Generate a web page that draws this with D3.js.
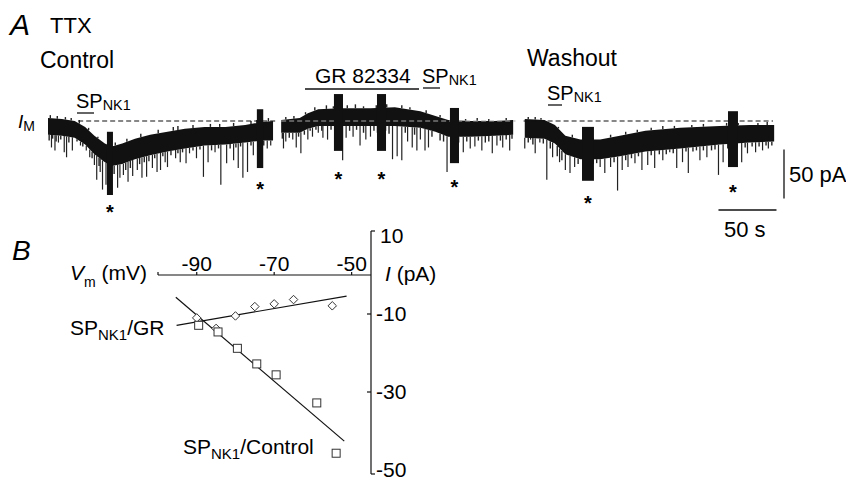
<!DOCTYPE html>
<html>
<head>
<meta charset="utf-8">
<script src="https://cdn.jsdelivr.net/npm/d3@7"></script>
<style>
  body { margin: 0; background: #fff; }
  svg { display: block; font-family: "Liberation Sans", Arial, sans-serif; }
</style>
</head>
<body>
<div id="vis"></div>
<script>
// ---- Panel A: membrane current (pA, relative to I_M) vs time (s) ----
// envelope of the noisy trace: [time, upper edge, lower edge]
const traceControl = [[0,3,-14],[12,2,-15],[23,0,-17],[32,-6,-24],[40,-15,-34],[49,-23,-42],[55,-26,-46],[64,-23,-44],[75,-18,-39],[88,-14,-35],[103,-11,-31],[118,-8,-28],[135,-6,-25],[153,-6,-24],[170,-4,-22],[185,-1,-20],[194,0,-20]];
const traceGR = [[201,1,-12],[217,3,-12],[224,8,-8],[233,12,-5],[252,13,-5],[278,13,-5],[299,14,-5],[321,10,-7],[334,5,-11],[345,1,-16],[364,0,-16],[385,0,-15],[401,1,-14]];
const traceWashout = [[411,2,-17],[428,1,-18],[437,-4,-23],[446,-15,-34],[459,-19,-39],[476,-19,-39],[493,-15,-36],[515,-10,-31],[545,-7,-28],[579,-5,-24],[605,-4,-22],[626,-4,-21]];

// spontaneous inward currents: [time, peak]
const spikesControl = [[3,-27],[6,-30],[9,-22],[14,-32],[16,-37],[21,-30],[28,-25],[33,-30],[36,-37],[40,-45],[42,-60],[45,-52],[47,-70],[50,-65],[60,-68],[62,-58],[65,-55],[69,-62],[73,-56],[77,-50],[81,-58],[85,-57],[90,-48],[94,-52],[97,-50],[101,-42],[103,-47],[110,-38],[114,-42],[119,-43],[122,-33],[128,-38],[134,-57],[138,-42],[144,-32],[149,-65],[154,-43],[160,-40],[164,-48],[168,-58],[172,-52],[177,-35],[189,-28],[192,-25]];
const spikesGR = [[203,-28],[205,-21],[211,-19],[214,-27],[218,-33],[224,-19],[228,-16],[233,-12],[237,-17],[241,-19],[254,-40],[257,-17],[263,-16],[269,-25],[274,-19],[278,-16],[297,-39],[301,-36],[305,-40],[310,-21],[314,-27],[318,-30],[321,-19],[325,-30],[328,-27],[344,-52],[358,-32],[364,-28],[368,-26],[374,-30],[383,-33],[387,-25],[392,-27],[398,-30]];
const spikesWashout = [[411,-28],[416,-19],[420,-33],[424,-22],[430,-60],[435,-37],[441,-42],[446,-50],[450,-53],[454,-47],[476,-47],[480,-53],[485,-47],[491,-71],[495,-50],[500,-47],[506,-43],[512,-50],[517,-45],[523,-48],[530,-40],[536,-32],[542,-48],[547,-42],[552,-53],[562,-40],[568,-37],[578,-55],[582,-42],[598,-42],[603,-33],[610,-32],[616,-30],[621,-28]];
// smaller events that make the lower edge of the trace fuzzy
const minorControl = [[1,-20],[4,-18],[7,-21],[11,-19],[18,-22],[25,-21],[30,-26],[38,-38],[44,-46],[52,-52],[57,-54],[67,-50],[71,-48],[79,-44],[83,-42],[87,-41],[92,-38],[99,-36],[106,-35],[112,-33],[116,-32],[125,-30],[131,-29],[141,-30],[147,-28],[157,-28],[162,-27],[166,-26],[175,-25],[181,-24],[186,-25]];
const minorGR = [[202,-18],[208,-17],[216,-16],[221,-14],[226,-10],[231,-9],[236,-10],[244,-9],[248,-11],[260,-10],[266,-9],[272,-12],[281,-10],[284,-12],[291,-10],[294,-13],[308,-12],[316,-14],[331,-16],[338,-20],[341,-21],[348,-22],[354,-22],[361,-21],[371,-20],[377,-22],[380,-21],[390,-20],[395,-19],[400,-18]];
const minorWashout = [[414,-22],[418,-24],[427,-23],[433,-28],[439,-36],[443,-40],[457,-44],[462,-45],[470,-44],[473,-43],[488,-42],[498,-40],[503,-38],[509,-36],[520,-35],[527,-34],[533,-34],[539,-33],[550,-31],[556,-31],[559,-30],[565,-30],[572,-30],[575,-29],[586,-28],[594,-27],[601,-27],[607,-26],[613,-26],[619,-25],[624,-25]];
// small outward flickers on the upper edge
const upControl = [[2,6],[8,5],[15,4],[20,3],[27,1],[35,-7],[43,-16],[58,-22],[68,-18],[80,-13],[95,-9],[108,-6],[112,-5],[125,-4],[140,-3],[148,-3],[160,-2],[175,0],[180,1],[190,3]];
const upGR = [[205,4],[212,5],[222,9],[230,14],[240,16],[246,15],[258,16],[265,17],[272,15],[283,16],[292,17],[305,16],[312,14],[326,11],[338,6],[352,3],[360,2],[370,3],[380,2],[395,3]];
const upWashout = [[414,4],[420,4],[425,3],[440,-6],[452,-14],[465,-16],[470,-17],[485,-14],[498,-11],[508,-9],[520,-7],[530,-5],[540,-5],[555,-4],[565,-3],[585,-2],[595,-2],[612,-2],[620,-1]];

// voltage-step artefacts (*): [time, top, bottom, duration]
const pulses = [[53.4,-11,-75.5,5.2],[182.8,12,-48,5.5],[250.4,27.5,-30.5,7.8],[287.5,27.5,-30.5,7.8],[350.4,13.3,-43,7.8],[465.5,-6,-61,10.3],[590.5,10,-47,8.6]];
const starLevel = [-89,-65,-55,-55,-63,-80,-68];

// I_M baseline (dashed) time spans
const baselineSpans = [[26,197],[201,403],[410,625]];

// ---- Panel B: I-V relation ----
const vmTicks = [-90, -70, -50];
const iTicks = [10, -10, -30, -50];
const grV = [-90, -85, -80, -75, -70, -65, -55];
const grI = [-11, -13.7, -10.5, -8.1, -7.4, -6.3, -7.9];
const ctlV = [-89.5, -84.5, -79.5, -74.5, -69.5, -59, -54];
const ctlI = [-12.9, -14.6, -18.8, -22.8, -25.6, -32.8, -45.7];
const fitGR = [[-95.2, -12.9], [-51.3, -5.4]];
const fitCtl = [[-95.4, -5.7], [-51.9, -42.6]];

const width = 846, height = 480;
const svg = d3.select("#vis").append("svg")
  .attr("viewBox", [0, 0, width, height])
  .attr("width", width)
  .attr("height", height);

// ---------- panel A ----------
const x = d3.scaleLinear().domain([0, 50]).range([48, 106]);
const y = d3.scaleLinear().domain([0, -50]).range([121, 170]);

const gA = svg.append("g");

const area = d3.area()
  .x(d => x(d[0]))
  .y0(d => y(d[2]))
  .y1(d => y(d[1]));

const segs = [
  {env: traceControl, spikes: spikesControl, minor: minorControl, up: upControl, dash: "#111"},
  {env: traceGR, spikes: spikesGR, minor: minorGR, up: upGR, dash: "#aaa"},
  {env: traceWashout, spikes: spikesWashout, minor: minorWashout, up: upWashout, dash: "#111"}
];

function events(g, data, edge, w) {
  g.selectAll(null)
    .data(data)
    .join("line")
    .attr("x1", d => x(d[0]))
    .attr("x2", d => x(d[0]))
    .attr("y1", d => y(edge(d[0])))
    .attr("y2", d => y(d[1]))
    .attr("stroke", "#222")
    .attr("stroke-width", w);
}

segs.forEach((s, i) => {
  const ts = s.env.map(d => d[0]);
  const lower = d3.scaleLinear().domain(ts).range(s.env.map(d => d[2])).clamp(true);
  const upper = d3.scaleLinear().domain(ts).range(s.env.map(d => d[1])).clamp(true);
  gA.append("path").datum(s.env).attr("d", area).attr("fill", "#111");
  events(gA, s.minor, lower, 1.4);
  events(gA, s.spikes, lower, 1.2);
  events(gA, s.up, upper, 1.4);
  const span = baselineSpans[i];
  gA.append("line")
    .attr("x1", x(span[0])).attr("x2", x(span[1]))
    .attr("y1", y(0)).attr("y2", y(0))
    .attr("stroke", s.dash)
    .attr("stroke-width", 1.2)
    .attr("stroke-dasharray", "5,3");
});

gA.selectAll(".pulse")
  .data(pulses)
  .join("rect")
  .attr("class", "pulse")
  .attr("x", d => x(d[0] - d[3] / 2))
  .attr("width", d => x(d[3]) - x(0))
  .attr("y", d => y(d[1]))
  .attr("height", d => y(d[2]) - y(d[1]))
  .attr("fill", "#111");

gA.selectAll(".star")
  .data(pulses)
  .join("text")
  .attr("class", "star")
  .attr("x", d => x(d[0]))
  .attr("y", (d, i) => y(starLevel[i]) + 11)
  .attr("text-anchor", "middle")
  .style("font-size", "20px")
  .style("font-weight", "bold")
  .text("*");

// scale bars
gA.append("line").attr("x1", 784).attr("x2", 784).attr("y1", y(-29)).attr("y2", y(-79))
  .attr("stroke", "#111").attr("stroke-width", 1.3);
gA.append("line").attr("x1", x(578)).attr("x2", x(628)).attr("y1", 210).attr("y2", 210)
  .attr("stroke", "#111").attr("stroke-width", 1.3);
gA.append("text").attr("x", 789).attr("y", 182).style("font-size", "22px").text("50 pA");
gA.append("text").attr("x", 724).attr("y", 237).style("font-size", "22px").text("50 s");

// labels
function spLabel(g, x0, base, size, barLen) {
  const t = g.append("text").attr("x", x0).attr("y", base).style("font-size", size + "px");
  t.append("tspan").text("SP");
  t.append("tspan").attr("dy", 2).style("font-size", (size * 0.72) + "px").text("NK1");
  g.append("line").attr("x1", x0 + 1).attr("x2", x0 + 1 + barLen)
    .attr("y1", base + 5).attr("y2", base + 5)
    .attr("stroke", "#111").attr("stroke-width", 1.3);
}

gA.append("text").attr("x", 10).attr("y", 35).style("font-size", "30px").style("font-style", "italic").text("A");
gA.append("text").attr("x", 50).attr("y", 33).style("font-size", "22px").text("TTX");
gA.append("text").attr("x", 40).attr("y", 68).style("font-size", "23px").text("Control");
gA.append("text").attr("x", 527).attr("y", 66).style("font-size", "23px").text("Washout");
gA.append("text").attr("x", 315).attr("y", 83).style("font-size", "21px").text("GR 82334");
gA.append("line").attr("x1", 305).attr("x2", 419).attr("y1", 89).attr("y2", 89)
  .attr("stroke", "#111").attr("stroke-width", 1.3);
spLabel(gA, 76, 108, 20, 17);
spLabel(gA, 422, 83, 20, 17);
spLabel(gA, 547, 100, 20, 14);

const im = gA.append("text").attr("x", 18).attr("y", 128).style("font-size", "19px");
im.append("tspan").style("font-style", "italic").text("I");
im.append("tspan").attr("dy", 3).style("font-size", "14px").text("M");

// ---------- panel B ----------
const xv = d3.scaleLinear().domain([-100, -45]).range([158, 371]);
const yi = d3.scaleLinear().domain([-50, 10]).range([470, 236]);
const gB = svg.append("g");

// voltage axis
gB.append("line").attr("x1", xv(-100)).attr("x2", xv(-45)).attr("y1", yi(0)).attr("y2", yi(0))
  .attr("stroke", "#111").attr("stroke-width", 1.2);
gB.append("line").attr("x1", xv(-100)).attr("x2", xv(-100)).attr("y1", yi(0)).attr("y2", yi(0) - 3)
  .attr("stroke", "#111").attr("stroke-width", 1.2);
gB.selectAll(".vt").data(vmTicks).join("line").attr("class", "vt")
  .attr("x1", d => xv(d)).attr("x2", d => xv(d)).attr("y1", yi(0)).attr("y2", yi(0) - 3)
  .attr("stroke", "#111").attr("stroke-width", 1.2);
gB.selectAll(".vl").data(vmTicks).join("text").attr("class", "vl")
  .attr("x", d => xv(d)).attr("y", 271).attr("text-anchor", "middle")
  .style("font-size", "21px").text(d => d);

// current axis
const ax = xv(-45);
gB.append("line").attr("x1", ax).attr("x2", ax).attr("y1", 231).attr("y2", 474)
  .attr("stroke", "#111").attr("stroke-width", 1.2);
gB.append("line").attr("x1", ax).attr("x2", ax + 4).attr("y1", 231).attr("y2", 231)
  .attr("stroke", "#111").attr("stroke-width", 1.2);
gB.append("line").attr("x1", ax).attr("x2", ax + 4).attr("y1", 474).attr("y2", 474)
  .attr("stroke", "#111").attr("stroke-width", 1.2);
gB.selectAll(".it").data(iTicks.slice(1, 3)).join("line").attr("class", "it")
  .attr("x1", ax - 4).attr("x2", ax).attr("y1", d => yi(d)).attr("y2", d => yi(d))
  .attr("stroke", "#111").attr("stroke-width", 1.2);
gB.selectAll(".il").data(iTicks).join("text").attr("class", "il")
  .attr("x", d => d > 0 ? 380 : 376).attr("y", d => yi(d) + 7)
  .style("font-size", "21px").text(d => d);

// fits
const line = d3.line().x(d => xv(d[0])).y(d => yi(d[1]));
[fitGR, fitCtl].forEach(f => {
  gB.append("path").datum(f).attr("d", line).attr("fill", "none")
    .attr("stroke", "#111").attr("stroke-width", 1.2);
});

// markers
gB.selectAll(".dia").data(grV).join("path").attr("class", "dia")
  .attr("d", d3.symbol(d3.symbolDiamond2, 46))
  .attr("transform", (d, i) => `translate(${xv(d)},${yi(grI[i])})`)
  .attr("fill", "#fff").attr("stroke", "#333").attr("stroke-width", 1);
gB.selectAll(".sq").data(ctlV).join("rect").attr("class", "sq")
  .attr("x", d => xv(d) - 4).attr("y", (d, i) => yi(ctlI[i]) - 4)
  .attr("width", 8).attr("height", 8)
  .attr("fill", "#fff").attr("stroke", "#333").attr("stroke-width", 1);

// labels
gB.append("text").attr("x", 12).attr("y", 260).style("font-size", "28px").style("font-style", "italic").text("B");
const vm = gB.append("text").attr("x", 70).attr("y", 280).style("font-size", "21px");
vm.append("tspan").style("font-style", "italic").text("V");
vm.append("tspan").attr("dy", 7).style("font-size", "14px").text("m");
vm.append("tspan").attr("dy", -7).text(" (mV)");
const il = gB.append("text").attr("x", 385).attr("y", 281).style("font-size", "21px");
il.append("tspan").style("font-style", "italic").text("I");
il.append("tspan").text(" (pA)");

function seriesLabel(x0, base, rest) {
  const t = gB.append("text").attr("x", x0).attr("y", base).style("font-size", "21px");
  t.append("tspan").text("SP");
  t.append("tspan").attr("dy", 5).style("font-size", "15px").text("NK1");
  t.append("tspan").attr("dy", -5).text(rest);
}
seriesLabel(70, 335, "/GR");
seriesLabel(183, 454, "/Control");
</script>
</body>
</html>
